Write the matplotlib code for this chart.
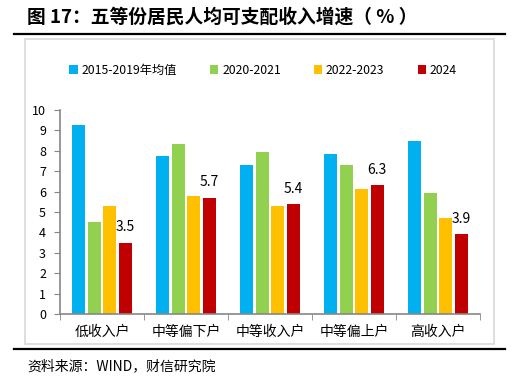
import numpy as np
import matplotlib.pyplot as plt
from matplotlib.patches import Rectangle
from matplotlib.lines import Line2D

plt.rcParams['font.family'] = ['Noto Sans CJK SC', 'DejaVu Sans']

# 数据
categories = ['低收入户', '中等偏下户', '中等收入户', '中等偏上户', '高收入户']
series_names = ['2015-2019年均值', '2020-2021', '2022-2023', '2024']
avg_2015_2019 = [9.26, 7.73, 7.30, 7.84, 8.47]
y2020_2021 = [4.52, 8.35, 7.96, 7.29, 5.93]
y2022_2023 = [5.31, 5.78, 5.29, 6.11, 4.71]
y2024 = [3.5, 5.7, 5.4, 6.3, 3.9]
colors = ['#00B0F0', '#92D050', '#FFC000', '#C00000']

fig = plt.figure(figsize=(5.32, 3.88), dpi=100)

# 标题和上下横线
fig.text(27 / 532, 1 - 17 / 388, '图 17：五等份居民人均可支配收入增速（ % ）',
         fontsize=13.5, fontweight='bold', va='center', ha='left')
fig.add_artist(Line2D([14 / 532, 505 / 532], [1 - 34 / 388] * 2, color='black', lw=1.6))
fig.add_artist(Line2D([14 / 532, 505 / 532], [1 - 349 / 388] * 2, color='black', lw=1.6))
fig.text(27 / 532, 1 - 366 / 388, '资料来源：WIND，财信研究院',
         fontsize=10, style='italic', va='center', ha='left')

# 图表外框
fig.add_artist(Rectangle((25 / 532, 1 - 344 / 388), 469 / 532, 305 / 388,
                         transform=fig.transFigure, fill=False,
                         edgecolor='#D9D9D9', lw=1.2))

ax = fig.add_axes([60 / 532, 74 / 388, 420 / 532, 204 / 388])

x = np.arange(len(categories))
width = 0.16
step = 0.185
data = [avg_2015_2019, y2020_2021, y2022_2023, y2024]
for i, (vals, name, c) in enumerate(zip(data, series_names, colors)):
    bars = ax.bar(x + (i - 1.5) * step, vals, width, color=c, label=name)
    if i == 3:
        for b, v in zip(bars, vals):
            ax.annotate(f'{v:.1f}', (b.get_x() + b.get_width() / 2, v),
                        xytext=(0, 11), textcoords='offset points',
                        ha='center', va='center', fontsize=10)

ax.set_xlim(-0.5, len(categories) - 0.5)
ax.set_ylim(0, 10)
ax.set_yticks(range(0, 11))
ax.set_xticks(x)
ax.set_xticklabels(categories, fontsize=10)
ax.set_xticks(np.arange(-0.5, len(categories)), minor=True)
ax.tick_params(axis='x', which='major', length=0, pad=8)
ax.tick_params(axis='x', which='minor', length=4, color='#868686', direction='out')
ax.tick_params(axis='y', length=4, color='#868686', labelsize=9, pad=6)

for s in ['top', 'right']:
    ax.spines[s].set_visible(False)
for s in ['left', 'bottom']:
    ax.spines[s].set_color('#868686')
    ax.spines[s].set_linewidth(1.2)

fig.legend(loc='center', bbox_to_anchor=(263 / 532, 1 - 70 / 388), ncol=4,
           frameon=False, fontsize=8.8, handlelength=0.7, handleheight=0.7,
           handletextpad=0.3, columnspacing=2.7)

fig.savefig('out.png', dpi=100)
